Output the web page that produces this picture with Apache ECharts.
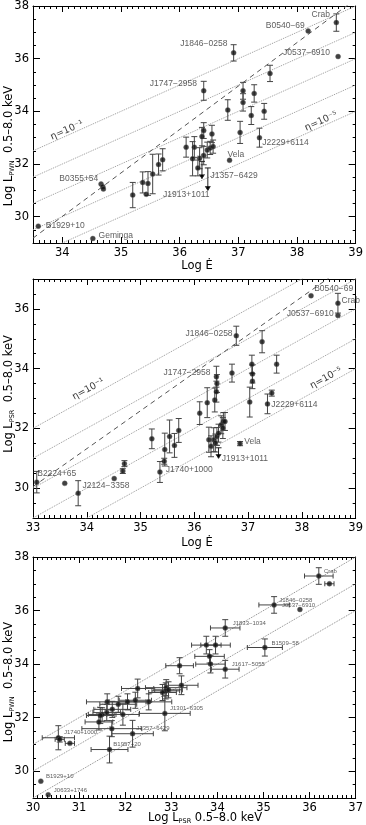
<!DOCTYPE html>
<html>
<head>
<meta charset="utf-8">
<script src="https://cdn.jsdelivr.net/npm/echarts@6/dist/echarts.min.js"></script>
<style>
  html, body { margin: 0; padding: 0; background: #fff; }
  #chart { width: 366px; height: 825px; }
</style>
</head>
<body>
<div id="chart"></div>
<script>
// ---- panel 1 : log L_PWN vs log Edot ----
const p1Edot = [38.67, 38.19, 38.70, 36.92, 36.41, 37.54, 37.08, 37.08, 37.27, 36.82, 37.22, 37.44, 37.03, 37.36,
  36.41, 36.38, 36.55, 36.11, 36.25, 36.22, 36.34, 36.41, 36.47, 36.52, 36.57, 36.31, 36.85,
  35.71, 35.64, 35.54, 35.46, 35.43, 35.37, 35.20, 34.66, 34.69, 34.70, 33.59, 34.52];
const p1Lpwn = [37.37, 37.05, 36.08, 36.22, 34.78, 35.44, 34.78, 34.34, 34.68, 34.05, 33.84, 34.00, 33.20, 33.00,
  33.27, 33.04, 33.14, 32.64, 32.64, 32.20, 32.22, 32.32, 32.53, 32.61, 32.66, 31.85, 32.14,
  32.16, 31.98, 31.62, 31.26, 30.85, 31.30, 30.82, 31.24, 31.14, 31.05, 29.64, 29.17];
const p1Err = [0.33, 0.04, 0.04, 0.31, 0.36, 0.31, 0.32, 0.33, 0.33, 0.39, 0.34, 0.30, 0.42, 0.36,
  0.30, 0.35, 0.33, 0.38, 0.40, 0.65, 0.40, 0.35, 0.30, 0.25, 0.25, 0.30, 0.05,
  0.42, 0.40, 0.75, 0.45, 0.05, 0.40, 0.48, 0.04, 0.04, 0.04, 0.03, 0.03];
// upper limits (arrows)
const p1UlEdot = [36.38, 36.48];
const p1UlTop = [32.10, 31.85];
const p1UlBot = [31.45, 31.00];

// ---- panel 2 : log L_PSR vs log Edot ----
const p2Edot = [38.17, 38.67, 38.67, 36.78, 37.26, 37.07, 37.53, 36.70, 37.08, 37.08, 36.41, 36.42, 36.41, 36.38,
  36.24, 36.10, 37.03, 37.36, 37.44, 36.27, 36.31, 36.36, 36.39, 36.42, 36.45, 36.50, 36.53, 36.54, 36.57,
  36.85, 35.71, 35.63, 35.54, 35.45, 35.44, 35.36, 35.21, 33.07, 33.59, 33.84, 34.51, 34.67, 34.70];
const p2Lpsr = [36.44, 36.19, 35.78, 35.10, 34.90, 34.15, 34.15, 33.85, 33.82, 33.58, 33.73, 33.50, 33.23, 32.95,
  32.86, 32.51, 32.88, 32.82, 33.18, 31.62, 31.40, 31.62, 31.51, 31.73, 31.84, 32.12, 32.01, 32.23, 32.23,
  31.49, 31.93, 31.43, 31.73, 31.29, 30.90, 30.54, 31.65, 30.20, 30.16, 29.83, 30.32, 30.57, 30.82];
const p2Err = [0.06, 0.33, 0.04, 0.32, 0.37, 0.30, 0.30, 0.30, 0.30, 0.25, 0.35, 0.30, 0.35, 0.40,
  0.50, 0.38, 0.50, 0.33, 0.10, 0.42, 0.35, 0.40, 0.30, 0.30, 0.30, 0.30, 0.35, 0.30, 0.30,
  0.07, 0.40, 0.40, 0.55, 0.55, 0.10, 0.35, 0.33, 0.36, 0.04, 0.42, 0.04, 0.08, 0.10];
const p2UlEdot = [36.45];
const p2UlTop = [31.35];
const p2UlBot = [31.00];

// ---- panel 3 : log L_PWN vs log L_PSR ----
const p3Lpsr = [36.20, 36.43, 35.23, 35.79, 34.17, 35.03, 33.76, 33.96, 33.83, 33.85, 33.18, 34.17, 33.22, 32.89,
  32.27, 32.88, 32.94, 32.81, 32.51, 32.22, 32.05, 31.85, 31.61, 31.72, 31.60, 31.95, 31.50, 31.46, 31.43,
  31.71, 32.16, 32.86, 31.66, 30.55, 30.58, 30.80, 30.17, 30.33];
const p3Lpwn = [37.29, 37.00, 36.21, 36.04, 35.35, 34.62, 34.71, 34.71, 34.29, 34.00, 33.94, 33.81, 33.21, 33.12,
  33.09, 33.00, 33.04, 32.94, 32.59, 32.65, 32.59, 32.50, 32.59, 32.31, 32.19, 32.12, 32.12, 32.08, 31.84,
  31.59, 31.40, 32.16, 30.81, 31.25, 31.19, 31.04, 29.63, 29.12];
const p3ErrX = [0.31, 0.10, 0.33, 0, 0.32, 0.38, 0.32, 0.32, 0.32, 0.32, 0.30, 0.30, 0.36, 0.45,
  0.35, 0.30, 0.30, 0.30, 0.50, 0.35, 0.40, 0.40, 0.45, 0.40, 0.30, 0.35, 0.30, 0.30, 0.30,
  0.65, 0.45, 0.55, 0.40, 0.35, 0.10, 0.10, 0.04, 0];
const p3ErrY = [0.31, 0.04, 0.31, 0, 0.31, 0.32, 0.33, 0.33, 0.25, 0.33, 0.30, 0.33, 0.35, 0.30,
  0.35, 0.30, 0.30, 0.30, 0.30, 0.30, 0.30, 0.30, 0.30, 0.30, 0.30, 0.40, 0.25, 0.30, 0.30,
  0.30, 0.50, 0.65, 0.50, 0.45, 0.10, 0.05, 0.02, 0];

// efficiency lines (log eta), PWN/PSR ratio lines, and the fitted dashed lines
const etaLog = [-1, -2, -3, -4, -5];
const ratioLog = [1, 0, -1];
const p1Fit = { slope: 1.65, x0: 33.6, y0: 29.35 };
const p2Fit = { slope: 1.27, x0: 33.0, y0: 30.05 };

// object names
const p1Names = ['Crab', 'B0540−69', 'J0537−6910', 'J1846−0258', 'J1747−2958', 'B0355+54',
  'J2229+6114', 'Vela', 'J1357−6429', 'J1913+1011', 'B1929+10', 'Geminga'];
const p1NameX = [38.58, 38.15, 38.58, 36.83, 36.31, 34.63, 37.39, 36.80, 36.51, 35.70, 33.70, 34.60];
const p1NameY = [37.66, 37.24, 36.22, 36.56, 35.05, 31.45, 32.82, 32.36, 31.54, 30.84, 29.67, 29.29];
const p1NameEnd = [1, 1, 1, 1, 1, 1, 0, 0, 0, 0, 0, 0];

const p2Names = ['B0540−69', 'Crab', 'J0537−6910', 'J1846−0258', 'J1747−2958', 'J2229+6114',
  'Vela', 'J1913+1011', 'J1740+1000', 'B2224+65', 'J2124−3358'];
const p2NameX = [38.21, 38.72, 38.61, 36.73, 36.32, 37.41, 36.91, 36.49, 35.45, 33.06, 33.90];
const p2NameY = [36.67, 36.28, 35.84, 35.17, 33.86, 32.79, 31.57, 30.98, 30.63, 30.50, 30.07];
const p2NameEnd = [0, 0, 1, 1, 1, 0, 0, 0, 0, 0, 0];

const p3Names = ['Crab', 'J1846−0258', 'J0537−6910', 'J1833−1034', 'B1509−58', 'J1617−5055',
  'J1301−6305', 'J1357−6429', 'J1740+1000', 'B1957+20', 'B1929+10', 'J0633+1746'];
const p3NameX = [36.29, 35.32, 35.38, 34.31, 35.15, 34.29, 32.95, 32.22, 30.65, 31.72, 30.26, 30.43];
const p3NameY = [37.46, 36.39, 36.21, 35.54, 34.77, 34.00, 32.34, 31.59, 31.44, 31.00, 29.81, 29.29];

const chart = echarts.init(document.getElementById('chart'));

const grids = [
  { left: 33, top: 5, width: 325, height: 238 },
  { left: 33, top: 279, width: 325, height: 239 },
  { left: 33, top: 557, width: 325, height: 241 },
];
const xRange = [[33.5, 39], [33, 39], [30, 37]];
const yRange = [[29, 38], [29, 37], [29, 38]];

const xAxes = [];
const yAxes = [];
grids.forEach((g, i) => {
  ['bottom', 'top'].forEach((pos) => {
    xAxes.push({
      type: 'value', gridIndex: i, position: pos,
      min: xRange[i][0], max: xRange[i][1], splitNumber: 6,
      axisLine: { onZero: false, lineStyle: { color: '#000', width: 1 } },
      axisTick: { inside: true, length: 6, lineStyle: { color: '#000' } },
      minorTick: { show: true, splitNumber: 10, length: 3, lineStyle: { color: '#000' } },
      splitLine: { show: false },
      axisLabel: {
        show: pos === 'bottom', showMinLabel: xRange[i][0] % 1 === 0, margin: 4,
        color: '#000', fontSize: 11.5, fontFamily: 'DejaVu Sans',
      },
    });
  });
  ['left', 'right'].forEach((pos) => {
    yAxes.push({
      type: 'value', gridIndex: i, position: pos,
      min: yRange[i][0], max: yRange[i][1], splitNumber: 4,
      axisLine: { onZero: false, lineStyle: { color: '#000', width: 1 } },
      axisTick: { inside: true, length: 7, lineStyle: { color: '#000' } },
      minorTick: { show: true, splitNumber: 4, length: 3, lineStyle: { color: '#000' } },
      splitLine: { show: false },
      axisLabel: {
        show: pos === 'left', showMinLabel: false, showMaxLabel: yRange[i][1] % 2 === 0, margin: 4,
        color: '#000', fontSize: 11.5, fontFamily: 'DejaVu Sans',
      },
    });
  });
});

// error bars drawn through the axes
function vBar(params, api) {
  const lo = api.coord([api.value(0), api.value(2)]);
  const hi = api.coord([api.value(0), api.value(3)]);
  const st = { stroke: '#444', lineWidth: 1 };
  return {
    type: 'group', children: [
      { type: 'line', shape: { x1: lo[0], y1: lo[1], x2: hi[0], y2: hi[1] }, style: st },
      { type: 'line', shape: { x1: lo[0] - 3, y1: lo[1], x2: lo[0] + 3, y2: lo[1] }, style: st },
      { type: 'line', shape: { x1: hi[0] - 3, y1: hi[1], x2: hi[0] + 3, y2: hi[1] }, style: st },
    ],
  };
}
function hBar(params, api) {
  const lo = api.coord([api.value(2), api.value(1)]);
  const hi = api.coord([api.value(3), api.value(1)]);
  const st = { stroke: '#444', lineWidth: 1 };
  return {
    type: 'group', children: [
      { type: 'line', shape: { x1: lo[0], y1: lo[1], x2: hi[0], y2: hi[1] }, style: st },
      { type: 'line', shape: { x1: lo[0], y1: lo[1] - 2.5, x2: lo[0], y2: lo[1] + 2.5 }, style: st },
      { type: 'line', shape: { x1: hi[0], y1: hi[1] - 2.5, x2: hi[0], y2: hi[1] + 2.5 }, style: st },
    ],
  };
}
function ulArrow(params, api) {
  const t = api.coord([api.value(0), api.value(1)]);
  const b = api.coord([api.value(0), api.value(2)]);
  const st = { stroke: '#222', lineWidth: 1 };
  return {
    type: 'group', children: [
      { type: 'line', shape: { x1: t[0] - 3, y1: t[1], x2: t[0] + 3, y2: t[1] }, style: st },
      { type: 'line', shape: { x1: t[0], y1: t[1], x2: b[0], y2: b[1] }, style: st },
      { type: 'polyline', shape: { points: [[b[0] - 2.5, b[1] - 4], [b[0], b[1]], [b[0] + 2.5, b[1] - 4]] }, style: st },
    ],
  };
}

const series = [];
const clear = 'rgba(0,0,0,0)';

function addGuide(i, offsets, color) {
  offsets.forEach((o) => {
    series.push({
      type: 'line', xAxisIndex: 2 * i, yAxisIndex: 2 * i, silent: true, symbol: 'none',
      lineStyle: { color: color, width: 1, type: 'dotted' },
      data: xRange[i].map((x) => [x, o + x]), z: 1,
    });
  });
}
function addFit(i, fit) {
  series.push({
    type: 'line', xAxisIndex: 2 * i, yAxisIndex: 2 * i, silent: true, symbol: 'none',
    lineStyle: { color: '#555', width: 1, type: [5, 4] },
    data: xRange[i].map((x) => [x, fit.y0 + fit.slope * (x - fit.x0)]), z: 1,
  });
}
function addPoints(i, xs, ys) {
  series.push({
    type: 'scatter', xAxisIndex: 2 * i, yAxisIndex: 2 * i, symbol: 'circle', symbolSize: 5,
    itemStyle: { color: '#111', borderColor: '#666', borderWidth: 0.5 },
    data: xs.map((x, k) => [x, ys[k]]), z: 5,
  });
}
function addVErr(i, xs, ys, es) {
  series.push({
    type: 'custom', xAxisIndex: 2 * i, yAxisIndex: 2 * i, renderItem: vBar, z: 3,
    data: xs.map((x, k) => [x, ys[k], ys[k] - es[k], ys[k] + es[k]]).filter((d, k) => es[k] > 0.06),
  });
}
function addHErr(i, xs, ys, es) {
  series.push({
    type: 'custom', xAxisIndex: 2 * i, yAxisIndex: 2 * i, renderItem: hBar, z: 3,
    data: xs.map((x, k) => [x, ys[k], x - es[k], x + es[k]]).filter((d, k) => es[k] > 0.06),
  });
}
function addUl(i, xs, tops, bots) {
  series.push({
    type: 'custom', xAxisIndex: 2 * i, yAxisIndex: 2 * i, renderItem: ulArrow, z: 3,
    data: xs.map((x, k) => [x, tops[k], bots[k]]),
  });
}
function addNames(i, names, xs, ys, ends, size) {
  [0, 1].forEach((side) => {
    series.push({
      type: 'scatter', xAxisIndex: 2 * i, yAxisIndex: 2 * i, symbolSize: 2, silent: true,
      itemStyle: { color: clear }, z: 6,
      label: {
        show: true, position: side ? 'left' : 'right', distance: 0,
        formatter: (p) => p.value[2], color: '#333', fontSize: size, fontFamily: 'Liberation Sans',
      },
      labelLayout: { hideOverlap: false },
      data: names.map((n, k) => [xs[k], ys[k], n]).filter((d, k) => (ends ? ends[k] : 0) === side),
    });
  });
}
function addEtaLabels(i, xs, ys, angle) {
  series.push({
    type: 'scatter', xAxisIndex: 2 * i, yAxisIndex: 2 * i, symbolSize: 2, silent: true,
    itemStyle: { color: clear }, z: 6,
    label: {
      show: true, position: 'inside', rotate: angle,
      formatter: (p) => p.value[2], color: '#000', fontSize: 9.5, fontFamily: 'DejaVu Sans',
    },
    data: [[xs[0], ys[0], 'η=10⁻¹'], [xs[1], ys[1], 'η=10⁻⁵']],
  });
}

// panel 1
addGuide(0, etaLog, '#999');
addFit(0, p1Fit);
addVErr(0, p1Edot, p1Lpwn, p1Err);
addUl(0, p1UlEdot, p1UlTop, p1UlBot);
addPoints(0, p1Edot, p1Lpwn);
addNames(0, p1Names, p1NameX, p1NameY, p1NameEnd, 8.5);
addEtaLabels(0, [34.08, 38.41], [33.28, 33.62], 24);

// panel 2
addGuide(1, etaLog, '#999');
addFit(1, p2Fit);
addVErr(1, p2Edot, p2Lpsr, p2Err);
addUl(1, p2UlEdot, p2UlTop, p2UlBot);
addPoints(1, p2Edot, p2Lpsr);
addNames(1, p2Names, p2NameX, p2NameY, p2NameEnd, 8.5);
addEtaLabels(1, [34.03, 38.45], [33.31, 33.68], 29);

// panel 3
addGuide(2, ratioLog, '#888');
addVErr(2, p3Lpsr, p3Lpwn, p3ErrY);
addHErr(2, p3Lpsr, p3Lpwn, p3ErrX);
addPoints(2, p3Lpsr, p3Lpwn);
addNames(2, p3Names, p3NameX, p3NameY, null, 6);

const rich = {
  a: { fontSize: 11.5, fontFamily: 'DejaVu Sans', fill: '#000' },
  s: { fontSize: 6.5, fontFamily: 'DejaVu Sans', fill: '#000', padding: [6, 0, 0, 0] },
};
function yTitle(cx, cy, sub) {
  return {
    type: 'text', x: cx, y: cy, rotation: Math.PI / 2,
    style: { text: '{a|Log L}{s|' + sub + '}{a|  0.5–8.0 keV}', align: 'center', verticalAlign: 'middle', rich: rich },
  };
}
function xTitle(cx, cy, text) {
  return {
    type: 'text', x: cx, y: cy,
    style: { text: text, align: 'center', verticalAlign: 'middle', rich: rich },
  };
}

chart.setOption({
  animation: false,
  grid: grids,
  xAxis: xAxes,
  yAxis: yAxes,
  series: series,
  graphic: [
    yTitle(9, 146, 'PWN'),
    yTitle(9, 394, 'PSR'),
    yTitle(9, 682, 'PWN'),
    xTitle(197, 266, '{a|Log Ė}'),
    xTitle(197, 543, '{a|Log Ė}'),
    xTitle(205, 818, '{a|Log L}{s|PSR}{a| 0.5–8.0 keV}'),
  ],
});
</script>
</body>
</html>
